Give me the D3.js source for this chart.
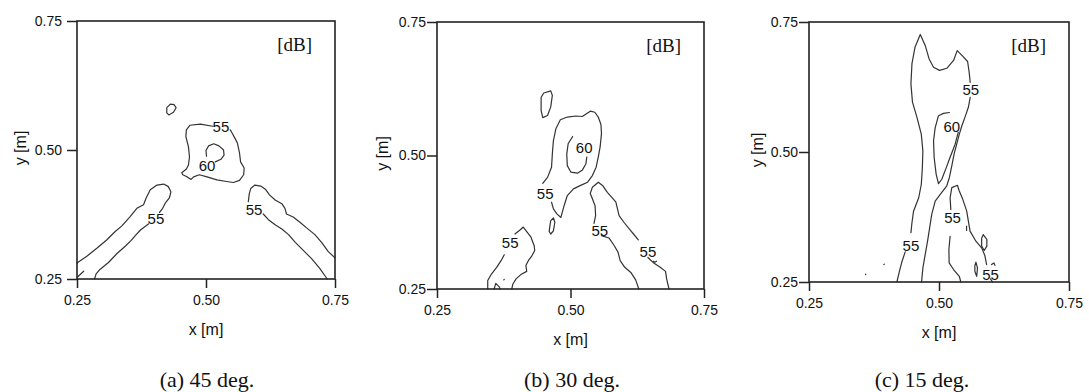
<!DOCTYPE html>
<html><head><meta charset="utf-8">
<script src="https://cdn.jsdelivr.net/npm/d3@7"></script>
<style>
body{margin:0;background:#fff;}
svg{display:block;}
</style></head>
<body>
<svg id="chart" width="1089" height="392"></svg>
<script>
// ---------- data ----------
const xTicks = [0.25, 0.5, 0.75];
const yTicks = [0.25, 0.5, 0.75];
const tickLabels = ["0.25", "0.50", "0.75"];
const captions = ["(a) 45 deg.", "(b) 30 deg.", "(c) 15 deg."];
const unitLabel = "[dB]";

// Panel (a) 45 deg. contour lines [x(m), y(m)]
const linesA = [
  [[0.424,0.582],[0.431,0.589],[0.438,0.588],[0.442,0.582],[0.437,0.573],[0.428,0.568],[0.424,0.572],[0.424,0.582]],
  [[0.513,0.546],[0.489,0.550],[0.469,0.548],[0.462,0.539],[0.461,0.526],[0.466,0.506],[0.468,0.487],[0.466,0.471],[0.462,0.463],[0.453,0.456],[0.455,0.452],[0.463,0.448],[0.471,0.443],[0.476,0.448],[0.487,0.452],[0.502,0.448],[0.521,0.442],[0.540,0.439],[0.553,0.437],[0.565,0.441],[0.573,0.452],[0.574,0.465],[0.567,0.477],[0.565,0.494],[0.561,0.513],[0.556,0.523],[0.550,0.534],[0.547,0.539]],
  [[0.501,0.488],[0.500,0.499],[0.505,0.508],[0.515,0.512],[0.525,0.508],[0.534,0.500],[0.535,0.490],[0.529,0.482],[0.518,0.477]],
  [[0.250,0.281],[0.269,0.294],[0.289,0.310],[0.308,0.326],[0.324,0.342],[0.337,0.353],[0.353,0.371],[0.366,0.387],[0.379,0.394],[0.384,0.407],[0.392,0.423],[0.405,0.432],[0.418,0.434],[0.427,0.429],[0.432,0.419],[0.429,0.407],[0.421,0.397],[0.416,0.387],[0.410,0.379]],
  [[0.389,0.357],[0.373,0.345],[0.363,0.334],[0.355,0.325],[0.344,0.314],[0.327,0.299],[0.311,0.282],[0.295,0.269],[0.287,0.260],[0.284,0.250]],
  [[0.251,0.254],[0.263,0.265]],
  [[0.582,0.400],[0.584,0.416],[0.587,0.426],[0.595,0.432],[0.606,0.430],[0.615,0.424],[0.623,0.413],[0.634,0.403],[0.647,0.396],[0.653,0.387],[0.656,0.376],[0.669,0.370],[0.682,0.360],[0.695,0.349],[0.711,0.336],[0.724,0.321],[0.737,0.303],[0.750,0.291]],
  [[0.611,0.376],[0.621,0.365],[0.634,0.355],[0.647,0.347],[0.660,0.336],[0.673,0.321],[0.689,0.305],[0.705,0.289],[0.720,0.271],[0.735,0.250]]
];
const labelsA = [
  {x:0.529, y:0.545, t:"55"}, {x:0.502, y:0.470, t:"60"},
  {x:0.403, y:0.368, t:"55"}, {x:0.593, y:0.384, t:"55"}
];

// Panel (b) 30 deg.
const linesB = [
  [[0.445,0.609],[0.450,0.617],[0.463,0.621],[0.466,0.6125],[0.463,0.591],[0.457,0.575],[0.448,0.571],[0.445,0.584],[0.445,0.603],[0.445,0.609]],
  [[0.448,0.448],[0.457,0.459],[0.4645,0.478],[0.466,0.503],[0.468,0.528],[0.4726,0.550],[0.481,0.567],[0.494,0.572],[0.510,0.574],[0.522,0.573],[0.537,0.583],[0.5455,0.581],[0.552,0.572],[0.557,0.558],[0.558,0.541],[0.5555,0.516],[0.552,0.497],[0.548,0.478],[0.541,0.4625],[0.532,0.450],[0.519,0.444],[0.5056,0.4375],[0.494,0.425],[0.488,0.406],[0.482,0.384],[0.4745,0.3906],[0.468,0.400],[0.4645,0.4125]],
  [[0.504,0.5356],[0.4956,0.522],[0.493,0.503],[0.494,0.481],[0.5006,0.469],[0.513,0.4669],[0.5224,0.473],[0.5287,0.484],[0.5305,0.497]],
  [[0.463,0.378],[0.468,0.383],[0.4707,0.375],[0.468,0.359],[0.463,0.353],[0.460,0.358],[0.462,0.372],[0.463,0.378]],
  [[0.345,0.250],[0.345,0.266],[0.352,0.278],[0.362,0.291],[0.370,0.303],[0.376,0.314]],
  [[0.396,0.353],[0.406,0.361],[0.4115,0.366],[0.418,0.3575],[0.426,0.347],[0.432,0.331],[0.433,0.322],[0.427,0.311],[0.421,0.303],[0.4165,0.294],[0.418,0.283],[0.407,0.277],[0.398,0.269],[0.392,0.259],[0.390,0.250]],
  [[0.357,0.250],[0.360,0.2606],[0.3666,0.254],[0.368,0.250]],
  [[0.375,0.267],[0.376,0.268]],
  [[0.544,0.373],[0.547,0.3875],[0.546,0.406],[0.541,0.419],[0.537,0.429],[0.541,0.4406],[0.552,0.450],[0.560,0.444],[0.569,0.431],[0.577,0.422],[0.585,0.4125],[0.588,0.400],[0.591,0.3875],[0.600,0.375],[0.610,0.3625],[0.618,0.353],[0.627,0.342]],
  [[0.645,0.309],[0.6565,0.298],[0.668,0.2906],[0.678,0.283],[0.680,0.269],[0.6845,0.250]],
  [[0.558,0.350],[0.572,0.3456],[0.582,0.331],[0.589,0.319],[0.593,0.303],[0.6016,0.2906],[0.613,0.281],[0.622,0.267],[0.628,0.250]],
  [[0.655,0.302],[0.658,0.300],[0.661,0.302]]
];
const labelsB = [
  {x:0.5256, y:0.5156, t:"60"}, {x:0.4526, y:0.428, t:"55"},
  {x:0.387, y:0.3375, t:"55"}, {x:0.555, y:0.359, t:"55"}, {x:0.645, y:0.3206, t:"55"}
];

// Panel (c) 15 deg.
const linesC = [
  [[0.419,0.250],[0.424,0.271],[0.429,0.290],[0.435,0.308]],
  [[0.446,0.345],[0.448,0.364],[0.451,0.386],[0.461,0.412],[0.466,0.438],[0.468,0.470],[0.469,0.502],[0.466,0.534],[0.4575,0.567],[0.449,0.596],[0.446,0.631],[0.448,0.670],[0.454,0.702],[0.464,0.726],[0.4735,0.705],[0.481,0.679],[0.4895,0.663],[0.501,0.657],[0.515,0.661],[0.528,0.676],[0.535,0.695],[0.546,0.684],[0.555,0.674],[0.558,0.6535],[0.560,0.634]],
  [[0.560,0.605],[0.5565,0.586],[0.550,0.567],[0.544,0.5505],[0.539,0.534],[0.534,0.515],[0.529,0.496],[0.5246,0.4733],[0.520,0.451],[0.515,0.435],[0.5035,0.420],[0.4927,0.4057],[0.486,0.380],[0.482,0.354],[0.478,0.3285],[0.4735,0.303],[0.469,0.277],[0.4665,0.250]],
  [[0.537,0.5376],[0.531,0.515],[0.521,0.489],[0.514,0.470],[0.5054,0.4476],[0.499,0.439],[0.4946,0.457],[0.4907,0.489],[0.4895,0.5216],[0.4927,0.547],[0.499,0.5698],[0.5086,0.5743],[0.520,0.576]],
  [[0.542,0.250],[0.539,0.261],[0.528,0.274],[0.5195,0.2867],[0.519,0.3124],[0.5214,0.338]],
  [[0.5227,0.3896],[0.5214,0.412],[0.5246,0.4315],[0.5354,0.436],[0.539,0.425],[0.5457,0.409],[0.5533,0.3864],[0.5565,0.367],[0.5597,0.3478],[0.571,0.3285],[0.582,0.3156],[0.588,0.3015],[0.5916,0.2835]],
  [[0.599,0.256],[0.603,0.250]],
  [[0.553,0.3575],[0.553,0.349]],
  [[0.585,0.341],[0.592,0.332],[0.592,0.319],[0.587,0.3105],[0.582,0.319],[0.582,0.334],[0.585,0.341]],
  [[0.571,0.288],[0.574,0.277],[0.5725,0.261],[0.569,0.2706],[0.569,0.282],[0.571,0.288]],
  [[0.601,0.2835],[0.6057,0.2867],[0.6076,0.282]],
  [[0.394,0.2835],[0.395,0.2845]],
  [[0.359,0.264],[0.359,0.265]]
];
const labelsC = [
  {x:0.561, y:0.621, t:"55"}, {x:0.5246, y:0.5486, t:"60"},
  {x:0.446, y:0.3208, t:"55"}, {x:0.526, y:0.3736, t:"55"}, {x:0.599, y:0.264, t:"55"}
];

// ---------- layout ----------
const panels = [
  {lines: linesA, labels: labelsA, caption: captions[0], x0: 77,  x1: 335,  y0: 21, y1: 279, capX: 207, yLabX: 20,  tickGap: 4},
  {lines: linesB, labels: labelsB, caption: captions[1], x0: 437, x1: 704,  y0: 22, y1: 289, capX: 572, yLabX: 382, tickGap: 0},
  {lines: linesC, labels: labelsC, caption: captions[2], x0: 809, x1: 1069, y0: 22, y1: 282, capX: 922, yLabX: 757, tickGap: 0}
];

const svg = d3.select("#chart");
const sans = "Liberation Sans, Arial, sans-serif";
const serif = "Liberation Serif, Times New Roman, serif";

panels.forEach(p => {
  const x = d3.scaleLinear().domain([0.25, 0.75]).range([p.x0, p.x1]);
  const y = d3.scaleLinear().domain([0.25, 0.75]).range([p.y1, p.y0]);
  const g = svg.append("g");

  // contours
  const line = d3.line().x(d => x(d[0])).y(d => y(d[1])).curve(d3.curveLinear);
  g.selectAll("path.c").data(p.lines).join("path")
    .attr("class", "c").attr("d", line)
    .attr("fill", "none").attr("stroke", "#333").attr("stroke-width", 1.2)
    .attr("stroke-linejoin", "round").attr("stroke-linecap", "round");

  // contour labels
  g.selectAll("text.cl").data(p.labels).join("text")
    .attr("class", "cl")
    .attr("x", d => x(d.x)).attr("y", d => y(d.y))
    .attr("text-anchor", "middle").attr("dominant-baseline", "central")
    .attr("font-family", sans).attr("font-size", 15).attr("fill", "#111")
    .text(d => d.t);

  // frame
  g.append("rect").attr("x", p.x0).attr("y", p.y0)
    .attr("width", p.x1 - p.x0).attr("height", p.y1 - p.y0)
    .attr("fill", "none").attr("stroke", "#222").attr("stroke-width", 1.6);

  // axes
  const xAxis = d3.axisBottom(x).tickValues(xTicks).tickFormat((d, i) => tickLabels[i])
    .tickSize(9).tickSizeOuter(0).tickPadding(7);
  const gx = g.append("g").attr("transform", `translate(0,${p.y1})`).call(xAxis);
  const yAxis = d3.axisLeft(y).tickValues(yTicks).tickFormat((d, i) => tickLabels[i])
    .tickSize(10).tickSizeOuter(0).tickPadding(1 + p.tickGap);
  const gy = g.append("g").attr("transform", `translate(${p.x0},0)`).call(yAxis);
  [gx, gy].forEach(a => {
    a.select(".domain").remove();
    a.selectAll("line").attr("stroke", "#222").attr("stroke-width", 1.5);
    a.selectAll("text").attr("font-family", sans).attr("font-size", 14).attr("fill", "#111");
  });

  // axis titles
  g.append("text").attr("x", (p.x0 + p.x1) / 2).attr("y", p.y1 + 50)
    .attr("text-anchor", "middle").attr("dominant-baseline", "central")
    .attr("font-family", sans).attr("font-size", 16).attr("fill", "#111").text("x [m]");
  g.append("text").attr("transform", `translate(${p.yLabX},${y(0.5) - 2}) rotate(-90)`)
    .attr("text-anchor", "middle").attr("dominant-baseline", "central")
    .attr("font-family", sans).attr("font-size", 16).attr("fill", "#111").text("y [m]");

  // unit label
  g.append("text").attr("x", p.x1 - 23).attr("y", p.y0 + 23)
    .attr("text-anchor", "end").attr("dominant-baseline", "central")
    .attr("font-family", serif).attr("font-size", 19).attr("fill", "#111").text(unitLabel);

  // caption
  svg.append("text").attr("x", p.capX).attr("y", 387)
    .attr("text-anchor", "middle")
    .attr("font-family", serif).attr("font-size", 22).attr("fill", "#111").text(p.caption);
});
</script>
</body></html>
